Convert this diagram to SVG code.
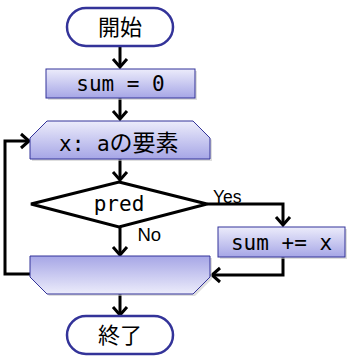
<svg xmlns="http://www.w3.org/2000/svg" width="350" height="360" viewBox="0 0 350 360">
<defs>
<linearGradient id="gDown" x1="0" y1="0" x2="0" y2="1">
<stop offset="0" stop-color="#ececfb"/>
<stop offset="1" stop-color="#a6a6e6"/>
</linearGradient>
<linearGradient id="gUp" x1="0" y1="0" x2="0" y2="1">
<stop offset="0" stop-color="#a6a6e6"/>
<stop offset="1" stop-color="#ececfb"/>
</linearGradient>
<marker id="arr" markerUnits="userSpaceOnUse" markerWidth="20" markerHeight="20" viewBox="-12 -10 14 20" refX="0" refY="0" orient="auto">
<path d="M-8,-7 L0,0 L-8,7" fill="none" stroke="#000" stroke-width="3"/>
</marker>
</defs>
<style>
.term{fill:#fff;stroke:#333399;stroke-width:2.5}
.box{stroke:#333399;stroke-width:1}
.shadow{fill:#c8c8c8;opacity:0.6}
.conn{fill:none;stroke:#000;stroke-width:3}
.mono{font-family:"DejaVu Sans Mono","Liberation Mono","Noto Sans CJK JP",monospace;font-size:21px;fill:#000}
.cjk{font-family:"Noto Sans CJK JP",sans-serif;font-size:22px;fill:#000}
.lbl{font-family:"Liberation Sans",Arial,sans-serif;fill:#000}
</style>
<g id="connectors">
<path class="conn" d="M120,46 L120,67" marker-end="url(#arr)"/>
<path class="conn" d="M120,98 L120,119" marker-end="url(#arr)"/>
<path class="conn" d="M120,159 L120,180" marker-end="url(#arr)"/>
<path class="conn" d="M207,204 L283,204 L283,225" marker-end="url(#arr)"/>
<path class="conn" d="M120,227 L120,255" marker-end="url(#arr)"/>
<path class="conn" d="M283,257 L283,275 L212,275" marker-end="url(#arr)"/>
<path class="conn" d="M30,274 L5,274 L5,141 L29,141" marker-end="url(#arr)"/>
<path class="conn" d="M120,294 L120,315" marker-end="url(#arr)"/>
<text class="lbl" x="213" y="202.5" style="font-size:17.5px">Yes</text>
<text class="lbl" x="137.5" y="241" style="font-size:18.5px">No</text>
</g>
<g id="start">
<rect class="term" x="67" y="8" width="106" height="38" rx="19" ry="19"/>
<text class="cjk" x="120" y="35" text-anchor="middle">開始</text>
</g>
<g id="init">
<rect class="shadow" x="48" y="71" width="149" height="29"/>
<rect class="box" x="46" y="69" width="149" height="29" fill="url(#gDown)"/>
<text class="mono" x="120.5" y="91" text-anchor="middle">sum = 0</text>
</g>
<g id="loopStart">
<polygon class="shadow" points="49,123 195,123 212,140 212,161 32,161 32,140"/>
<polygon class="box" points="47,121 193,121 210,138 210,159 30,159 30,138" fill="url(#gDown)"/>
<text class="mono" x="59" y="151">x: a<tspan class="cjk" style="font-size:23px">の要素</tspan></text>
</g>
<g id="pred">
<polygon points="119,182 207,204 119,227 31,204" fill="#fff" stroke="#000" stroke-width="3" stroke-linejoin="miter"/>
<text class="mono" x="119" y="211" text-anchor="middle">pred</text>
</g>
<g id="add">
<rect class="shadow" x="220" y="229" width="127" height="30"/>
<rect class="box" x="218" y="227" width="127" height="30" fill="url(#gDown)"/>
<text class="mono" x="281.5" y="250" text-anchor="middle">sum += x</text>
</g>
<g id="loopEnd">
<polygon class="shadow" points="32,258 212,258 212,279 195,296 49,296 32,279"/>
<polygon class="box" points="30,256 210,256 210,277 193,294 47,294 30,277" fill="url(#gUp)"/>
</g>
<g id="end">
<rect class="term" x="67" y="316" width="106" height="38" rx="19" ry="19"/>
<text class="cjk" x="120" y="343" text-anchor="middle">終了</text>
</g>
</svg>
